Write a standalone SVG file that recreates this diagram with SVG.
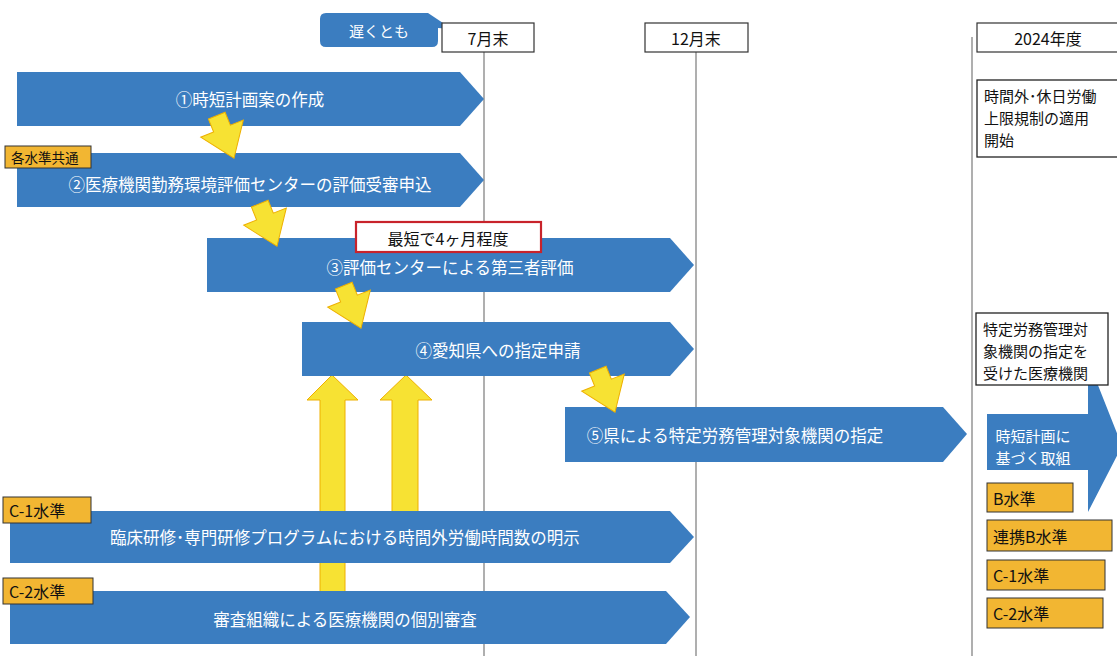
<svg xmlns="http://www.w3.org/2000/svg" width="1117" height="656" viewBox="0 0 1117 656">
<style>
text{font-family:"Noto Sans CJK JP","Noto Sans",sans-serif}
.bar{fill:#3b7dc0}
.bt{fill:#fff;font-size:16.5px;text-anchor:middle;dominant-baseline:central}
.hdr{fill:#fff;stroke:#333;stroke-width:1.2}
.ht{fill:#111;font-size:16px;text-anchor:middle;dominant-baseline:central}
.vl{stroke:#7a7a7a;stroke-width:1.2}
.lbl{fill:#f2b632;stroke:#333;stroke-width:1}
.lt{fill:#111;font-size:15px;dominant-baseline:central}
.ya{fill:#f7e233;stroke:#eeb000;stroke-width:1}
.bx{fill:#fff;stroke:#222;stroke-width:1.3}
.bxt{fill:#111;font-size:15px;dominant-baseline:central}
.et{fill:#fff;font-size:15px;text-anchor:middle;dominant-baseline:central}
</style>
<defs>
<path id="darrow" d="M-9,-22 L9,-22 L9,-8 L23,-8 L0,24 L-23,-8 L-9,-8 Z"/>
</defs>
<rect width="1117" height="656" fill="#fff"/>

<g id="timeline">
<line class="vl" x1="484" y1="52" x2="484" y2="656"/>
<line class="vl" x1="696" y1="52" x2="696" y2="656"/>
<line class="vl" x1="972" y1="37" x2="972" y2="656"/>
</g>

<g id="connectors">
<path class="ya" d="M320,400 L307,400 L332,375 L358,400 L345,400 L345,592 L320,592 Z"/>
<path class="ya" d="M392,400 L380,400 L406,375 L432,400 L418,400 L418,512 L392,512 Z"/>
</g>

<g id="callout">
<path d="M326,13 L428,13 L452,29 L438,28 L438,41 Q438,47 432,47 L326,47 Q320,47 320,41 L320,19 Q320,13 326,13 Z" fill="#3b7dc0"/>
<text x="379" y="30" style="fill:#fff;font-size:15px;text-anchor:middle;dominant-baseline:central">遅くとも</text>
</g>
<g id="h-jul"><rect class="hdr" x="442" y="23" width="92" height="29"/><text class="ht" x="488" y="38">7月末</text></g>
<g id="h-dec"><rect class="hdr" x="645" y="23" width="103" height="29"/><text class="ht" x="696" y="38">12月末</text></g>
<g id="h-2024"><rect class="hdr" x="977" y="23" width="150" height="29"/><text class="ht" x="1048" y="38">2024年度</text></g>

<g id="box-start">
<rect class="bx" x="977" y="80" width="150" height="77"/>
<text class="bxt" x="984" y="95">時間外･休日労働</text>
<text class="bxt" x="984" y="117">上限規制の適用</text>
<text class="bxt" x="984" y="139">開始</text>
</g>

<g id="step1">
<polygon class="bar" points="17,72 460,72 484,99 460,126 17,126"/>
<text class="bt" x="250" y="99">①時短計画案の作成</text>
</g>
<g id="step2">
<polygon class="bar" points="17,153 460,153 484,180 460,207 17,207"/>
<text class="bt" x="250" y="184">②医療機関勤務環境評価センターの評価受審申込</text>
<rect class="lbl" x="5" y="146" width="86" height="22"/>
<text class="lt" x="11" y="157" style="font-size:13.5px">各水準共通</text>
</g>
<g id="step3">
<polygon class="bar" points="207,238 670,238 694,265 670,292 207,292"/>
<text class="bt" x="450" y="267">③評価センターによる第三者評価</text>
<rect x="356" y="222" width="185" height="30" fill="#fff" stroke="#c8232b" stroke-width="2.2"/>
<text class="ht" x="448" y="238">最短で4ヶ月程度</text>
</g>
<g id="step4">
<polygon class="bar" points="302,322 670,322 694,349 670,376 302,376"/>
<text class="bt" x="498" y="350">④愛知県への指定申請</text>
</g>
<g id="step5">
<polygon class="bar" points="565,407 943,407 967,434 943,462 565,462"/>
<text class="bt" x="735" y="435">⑤県による特定労務管理対象機関の指定</text>
</g>
<g id="c1">
<polygon class="bar" points="10,511 670,511 694,537 670,563 10,563"/>
<text class="bt" x="345" y="537">臨床研修･専門研修プログラムにおける時間外労働時間数の明示</text>
<rect class="lbl" x="3" y="497" width="88" height="26"/>
<text class="lt" x="9" y="510" style="font-size:16px">C-1水準</text>
</g>
<g id="c2">
<polygon class="bar" points="10,591 666,591 690,617 666,644 10,644"/>
<text class="bt" x="345" y="619">審査組織による医療機関の個別審査</text>
<rect class="lbl" x="3" y="578" width="90" height="26"/>
<text class="lt" x="9" y="591" style="font-size:16px">C-2水準</text>
</g>

<g id="diag-arrows">
<use href="#darrow" class="ya" transform="translate(225,136) rotate(-22)"/>
<use href="#darrow" class="ya" transform="translate(268,224) rotate(-22)"/>
<use href="#darrow" class="ya" transform="translate(352,306) rotate(-22)"/>
<use href="#darrow" class="ya" transform="translate(606,390) rotate(-22)"/>
</g>

<g id="effort">
<polygon class="bar" points="987,414 1088,414 1088,360 1122,446 1088,512 1088,470 987,470"/>
<text class="et" x="1033" y="435">時短計画に</text>
<text class="et" x="1033" y="457">基づく取組</text>
</g>
<g id="box-designated">
<rect class="bx" x="976" y="313" width="132" height="72"/>
<text class="bxt" x="983" y="328">特定労務管理対</text>
<text class="bxt" x="983" y="350">象機関の指定を</text>
<text class="bxt" x="983" y="372">受けた医療機関</text>
</g>
<g id="lv-b"><rect class="lbl" x="987" y="483" width="86" height="29"/><text class="lt" x="993" y="498" style="font-size:16px">B水準</text></g>
<g id="lv-rb"><rect class="lbl" x="987" y="520" width="125" height="31"/><text class="lt" x="993" y="536" style="font-size:16px">連携B水準</text></g>
<g id="lv-c1"><rect class="lbl" x="987" y="560" width="118" height="30"/><text class="lt" x="993" y="575" style="font-size:16px">C-1水準</text></g>
<g id="lv-c2"><rect class="lbl" x="987" y="598" width="116" height="30"/><text class="lt" x="993" y="613" style="font-size:16px">C-2水準</text></g>
</svg>
